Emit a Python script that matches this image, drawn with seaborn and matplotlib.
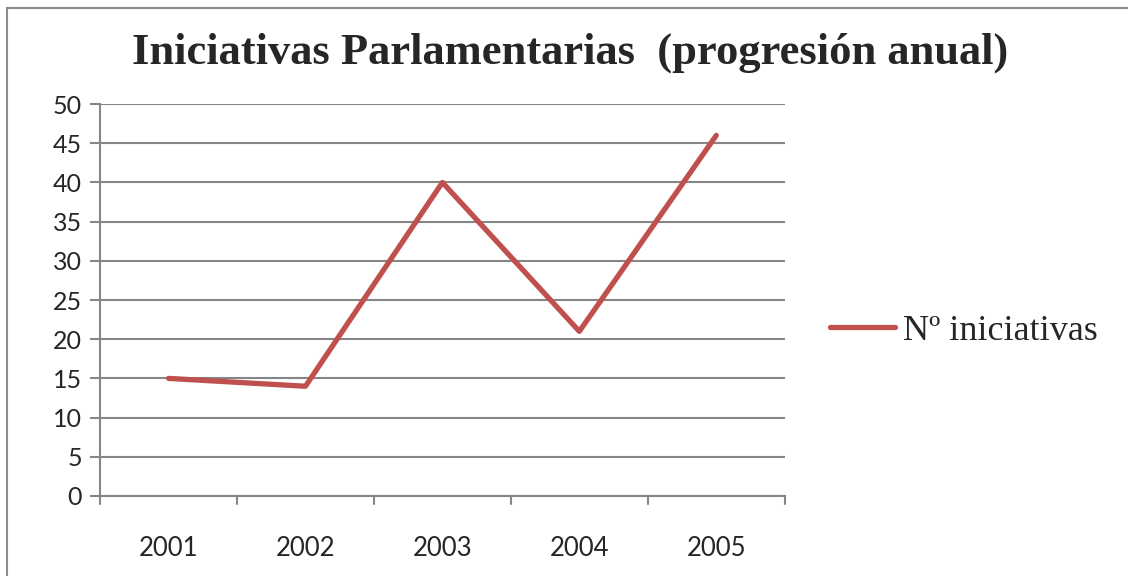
import matplotlib
matplotlib.use("Agg")
import matplotlib.pyplot as plt
import matplotlib.patches as mpatches
import seaborn as sns
import pandas as pd

# datos de la gráfica
years = ["2001", "2002", "2003", "2004", "2005"]
iniciativas = [15, 14, 40, 21, 46]
y_ticks = [0, 5, 10, 15, 20, 25, 30, 35, 40, 45, 50]

df = pd.DataFrame({"year": years, "n": iniciativas})

sns.set_style("white")
plt.rcParams["font.family"] = ["Lato", "DejaVu Sans"]

fig = plt.figure(figsize=(11.28, 5.76), dpi=100)
ax = fig.add_axes([0.0887, 0.1389, 0.607, 0.6805])

# marco exterior del gráfico
fig.patches.append(mpatches.Rectangle((7 / 1128, -0.1), 1.2, 1 - 8 / 576 + 0.1,
                                      transform=fig.transFigure, fill=False,
                                      edgecolor="#8c8c8c", linewidth=1.5))

sns.lineplot(data=df, x="year", y="n", ax=ax, color="#C0504D", linewidth=3.8,
             solid_capstyle="round", label="Nº iniciativas", sort=False)

ax.set_xlim(-0.5, len(years) - 0.5)
ax.set_ylim(0, 50)
ax.set_yticks(y_ticks)
ax.set_yticklabels([str(t) for t in y_ticks], fontsize=18)
ax.set_xticks(range(len(years)))
ax.set_xticklabels(years, fontsize=18.5)
ax.tick_params(axis="x", length=0, pad=29)
ax.tick_params(axis="y", length=7, color="#868686", width=1.5, pad=6, left=True)

# marcas del eje x entre categorías
for b in [i - 0.5 for i in range(len(years) + 1)]:
    ax.plot([b, b], [0, -1.0], color="#868686", linewidth=1.5, clip_on=False)

ax.yaxis.grid(True, color="#868686", linewidth=1.5)
ax.xaxis.grid(False)
ax.set_axisbelow(True)
for s in ["top", "right"]:
    ax.spines[s].set_visible(False)
for s in ["left", "bottom"]:
    ax.spines[s].set_color("#868686")
    ax.spines[s].set_linewidth(1.5)
ax.set_xlabel("")
ax.set_ylabel("")

fig.text(0.505, 0.908, "Iniciativas Parlamentarias  (progresión anual)",
         ha="center", va="center", fontsize=32, fontweight="bold",
         family=["Liberation Serif", "DejaVu Serif"])

leg = ax.legend(loc="center left", bbox_to_anchor=(1.066, 0.42), frameon=False,
                prop={"family": ["Liberation Serif", "DejaVu Serif"], "size": 26},
                handlelength=1.8, handletextpad=0.22, borderpad=0, borderaxespad=0)

fig.savefig("out.png", dpi=100)
